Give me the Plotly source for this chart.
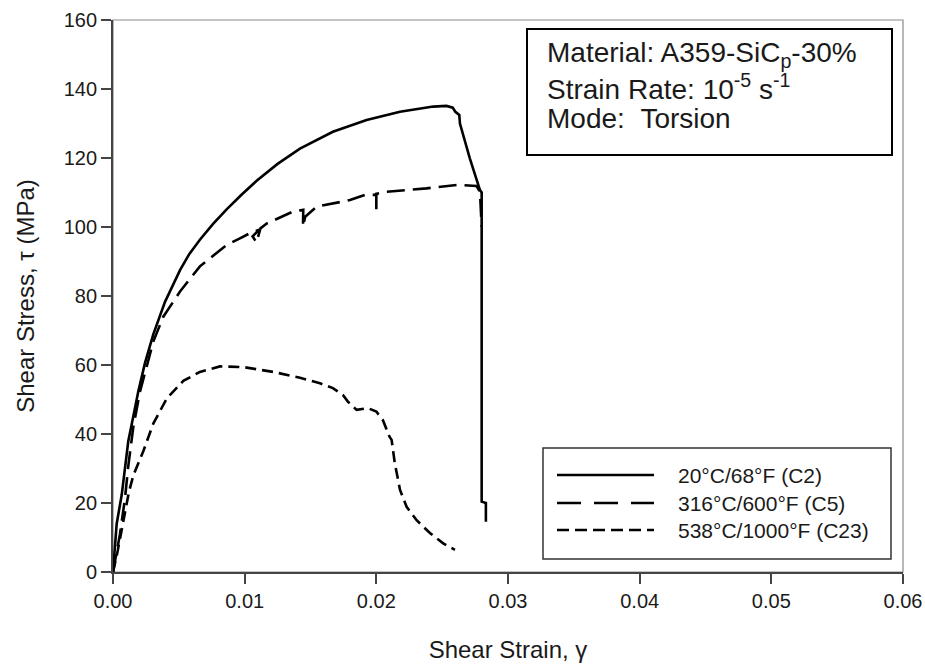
import plotly.graph_objects as go

# ---- data ----
x_c2 = [0, 0.00028, 0.00066, 0.00091, 0.00116, 0.00154, 0.00192, 0.00243, 0.00306, 0.00395,
        0.00509, 0.0058, 0.0066, 0.0076, 0.00863, 0.0098, 0.01091, 0.0125, 0.0142, 0.0167,
        0.01926, 0.0218, 0.02432, 0.02533, 0.0258, 0.0260, 0.0263, 0.02635, 0.0271, 0.02787,
        0.0280, 0.0280, 0.02832, 0.02832]
y_c2 = [0, 14, 22.3, 31, 37.9, 45.1, 52.3, 60.6, 68.9, 78.3,
        87.5, 92.2, 96.3, 100.9, 105.1, 109.5, 113.4, 118.3, 122.7, 127.6,
        131, 133.4, 134.9, 135.1, 134.6, 133.4, 132.5, 130, 119.9, 110.7,
        110, 20.4, 20, 14.6]

x_c5 = [0, 0.0002, 0.00053, 0.00091, 0.00116, 0.00154, 0.00205, 0.00256, 0.00306, 0.00382,
        0.00509, 0.0066, 0.00863, 0.00964, 0.0104, 0.0111, 0.0106, 0.0109, 0.0112, 0.01167,
        0.0129, 0.01369, 0.01445, 0.01443, 0.0146, 0.01547, 0.018, 0.01913, 0.0200, 0.0200,
        0.0200, 0.02078, 0.0238, 0.0261, 0.0276, 0.02787, 0.0280]
y_c5 = [0, 4, 11, 21.3, 30.7, 42, 52.3, 59.6, 66.8, 74,
        81.3, 88.6, 94.8, 96.7, 98.2, 99.2, 97.3, 95.5, 99.6, 101,
        103, 104.5, 105, 100.1, 103, 105.9, 107.8, 109.3, 109.3, 104,
        109.6, 110.2, 111.2, 112.2, 111.9, 110.2, 100]

x_c23 = [0, 0.0003, 0.0008, 0.0012, 0.00154, 0.0023, 0.00306, 0.00408, 0.00534, 0.0066,
         0.00812, 0.0099, 0.01217, 0.0142, 0.01572, 0.0167, 0.01746, 0.01784, 0.0185, 0.01936,
         0.0200, 0.0205, 0.0210, 0.02116, 0.0214, 0.0218, 0.0223, 0.02306, 0.02407, 0.02508,
         0.02597]
y_c23 = [0, 5, 15, 23, 28, 35, 43, 50.3, 55.4, 58,
         59.6, 59.4, 58, 56.3, 54.7, 53.3, 51.3, 49.4, 47, 47.5,
         46.5, 44, 39.2, 38.3, 31.6, 23.8, 18.9, 15, 11.3, 8.3,
         6.4]

series_names = ["20°C/68°F (C2)", "316°C/600°F (C5)", "538°C/1000°F (C23)"]
x_ticks = [0.00, 0.01, 0.02, 0.03, 0.04, 0.05, 0.06]
y_ticks = [0, 20, 40, 60, 80, 100, 120, 140, 160]

FONT = "Liberation Sans, Arial, sans-serif"
TXT = "#1a1a1a"

curve_dash = ["solid", "18px,8px", "11px,6px"]
legend_dash = ["solid", "24px,13px", "12px,6px"]

FIG_W, FIG_H = 925, 664
L, R, T, B = 113, 903, 20, 572   # plot area in pixels

fig = go.Figure()
for xs, ys, name, d in zip([x_c2, x_c5, x_c23], [y_c2, y_c5, y_c23], series_names, curve_dash):
    fig.add_trace(go.Scatter(x=xs, y=ys, mode="lines", name=name, showlegend=False,
                             line=dict(color="black", width=2.6, dash=d)))

shapes = []
annotations = []


def px_x(p):
    return (p - L) / float(R - L)


def px_y(p):
    return (B - p) / float(B - T)


# plot frame (top/right light grey)
shapes.append(dict(type="rect", xref="paper", yref="paper", x0=0, x1=1, y0=0, y1=1,
                   line=dict(color="#8a8a8a", width=1.2), layer="below"))

# info box
shapes.append(dict(type="rect", xref="paper", yref="paper",
                   x0=px_x(527), x1=px_x(892), y0=px_y(155), y1=px_y(29),
                   line=dict(color="black", width=2), fillcolor="white"))
info_lines = ["Material: A359-SiC<sub>p</sub>-30%",
              "Strain Rate: 10<sup>-5</sup> s<sup>-1</sup>",
              "Mode:\u00a0\u00a0Torsion"]
info_y = [55, 87, 118]
for t, yy in zip(info_lines, info_y):
    annotations.append(dict(text=t, xref="paper", yref="paper", x=px_x(545), y=px_y(yy),
                            xanchor="left", yanchor="middle", showarrow=False,
                            font=dict(family=FONT, size=28, color=TXT)))

# custom legend
shapes.append(dict(type="rect", xref="paper", yref="paper",
                   x0=px_x(543), x1=px_x(891), y0=px_y(559), y1=px_y(448),
                   line=dict(color="#333333", width=1.5), fillcolor="white"))
leg_y = [475, 503, 530]
for name, d, yy in zip(series_names, legend_dash, leg_y):
    shapes.append(dict(type="line", xref="paper", yref="paper",
                       x0=px_x(557), x1=px_x(654), y0=px_y(yy), y1=px_y(yy),
                       line=dict(color="black", width=2.6, dash=d)))
    annotations.append(dict(text=name, xref="paper", yref="paper", x=px_x(676), y=px_y(yy),
                            xanchor="left", yanchor="middle", showarrow=False,
                            font=dict(family=FONT, size=21, color=TXT)))

fig.update_layout(
    width=FIG_W, height=FIG_H,
    margin=dict(l=L, r=FIG_W - R, t=T, b=FIG_H - B, autoexpand=False),
    plot_bgcolor="white", paper_bgcolor="white",
    font=dict(family=FONT, color=TXT),
    shapes=shapes, annotations=annotations,
    xaxis=dict(range=[0, 0.06], tickvals=x_ticks, ticktext=[f"{v:.2f}" for v in x_ticks],
               ticks="outside", ticklen=10, tickwidth=1.5, tickcolor="#444",
               showline=True, linecolor="#444", linewidth=1.8, showgrid=False, zeroline=False,
               tickfont=dict(family=FONT, size=20, color=TXT),
               title=dict(text="Shear Strain, γ", font=dict(family=FONT, size=24, color=TXT),
                          standoff=30)),
    yaxis=dict(range=[0, 160], tickvals=y_ticks,
               ticks="outside", ticklen=10, tickwidth=1.5, tickcolor="#444",
               showline=True, linecolor="#444", linewidth=1.8, showgrid=False, zeroline=False,
               tickfont=dict(family=FONT, size=20, color=TXT),
               title=dict(text="Shear Stress, τ (MPa)", font=dict(family=FONT, size=24, color=TXT),
                          standoff=22)),
)

fig.write_html("out.html")
